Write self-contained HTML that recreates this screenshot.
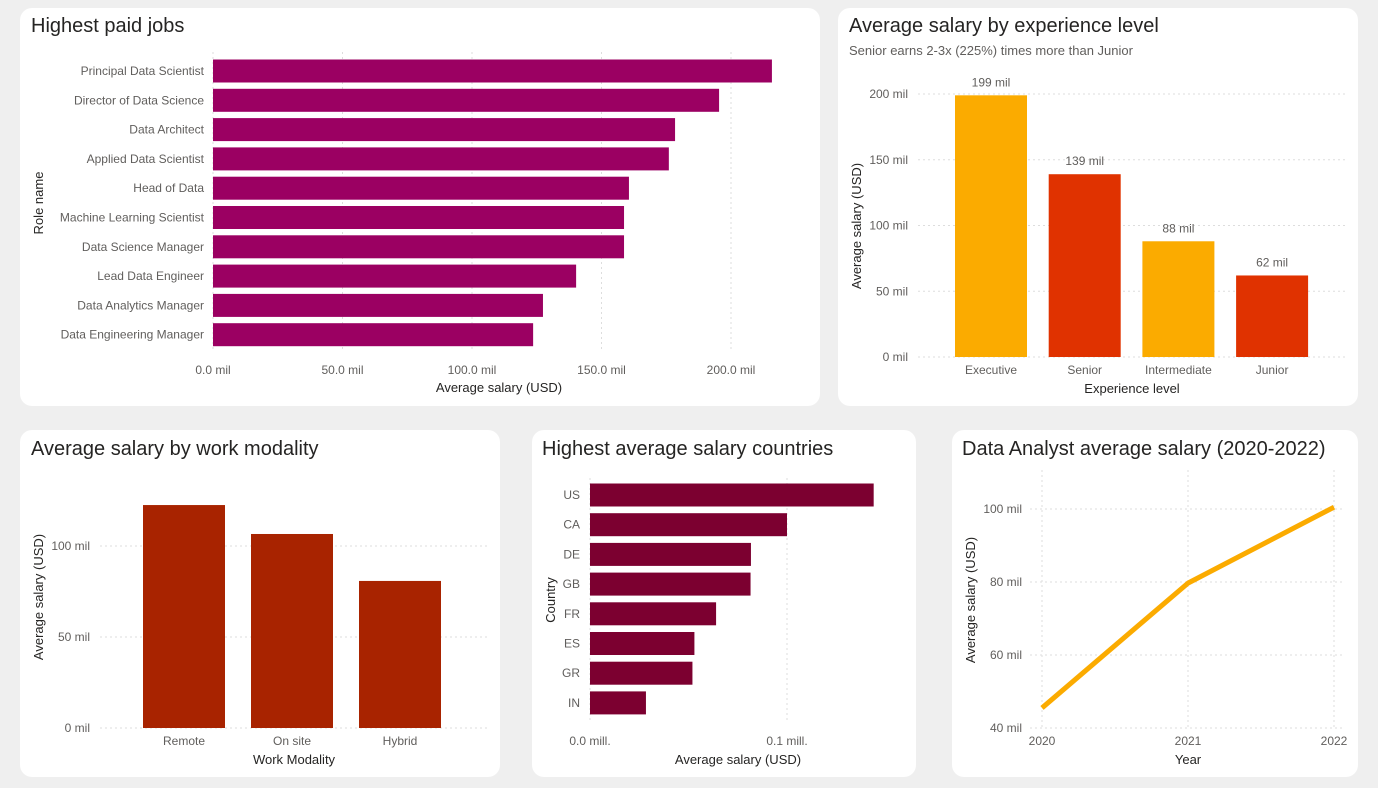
<!DOCTYPE html>
<html><head><meta charset="utf-8">
<style>
body{margin:0;width:1378px;height:788px;background:#efefef;font-family:"Liberation Sans",sans-serif;overflow:hidden;position:relative}
.card{position:absolute;background:#fff;border-radius:12px}
svg{position:absolute;left:0;top:0}
text{font-family:"Liberation Sans",sans-serif}
</style></head><body>
<div class="card" style="left:20px;top:8px;width:800px;height:398px"></div>
<div class="card" style="left:838px;top:8px;width:520px;height:398px"></div>
<div class="card" style="left:20px;top:430px;width:480px;height:347px"></div>
<div class="card" style="left:532px;top:430px;width:384px;height:347px"></div>
<div class="card" style="left:952px;top:430px;width:406px;height:347px"></div>
<svg id="s" width="1378" height="788"></svg>
<script>
const jobs=["Principal Data Scientist","Director of Data Science","Data Architect","Applied Data Scientist","Head of Data","Machine Learning Scientist","Data Science Manager","Lead Data Engineer","Data Analytics Manager","Data Engineering Manager"];
const jobVals=[215.8,195.4,178.4,176,160.6,158.7,158.7,140.2,127.4,123.6];
const jobTicks=[0,50,100,150,200];
const expCats=["Executive","Senior","Intermediate","Junior"];
const expVals=[199,139,88,62];
const expTicks=[0,50,100,150,200];
const modCats=["Remote","On site","Hybrid"];
const modVals=[122.5,106.6,80.8];
const modTicks=[0,50,100];
const countries=["US","CA","DE","GB","FR","ES","GR","IN"];
const countryVals=[0.144,0.100,0.0817,0.0815,0.064,0.053,0.052,0.0284];
const countryTicks=[0,0.1];
const years=[2020,2021,2022];
const daVals=[45.5,79.7,100.5];
const daTicks=[40,60,80,100];

const s=document.getElementById('s');const NS="http://www.w3.org/2000/svg";
function el(t,a,txt){const e=document.createElementNS(NS,t);for(const k in a)e.setAttribute(k,a[k]);if(txt!==undefined)e.textContent=txt;s.appendChild(e);return e;}
function tx(x,y,str,o){o=o||{};const e=el('text',{x:x,y:y,'font-size':o.fs||12,fill:o.fill||'#605e5c','text-anchor':o.a||'middle'},str);if(o.rot)e.setAttribute('transform',`rotate(-90 ${x} ${y})`);return e;}
function title(x,y,str,n){const e=tx(x,y,str,{fs:20,fill:'#252423',a:'start'});}
const grid={stroke:'#ddd','stroke-dasharray':'2,3'};

// Chart 1
title(31,32,"Highest paid jobs","title-highest-paid-jobs");
const x1=v=>213+v*2.59;
jobTicks.forEach(t=>{el('line',Object.assign({x1:x1(t),x2:x1(t),y1:52,y2:352},grid));const e=tx(x1(t),374,t.toFixed(1)+" mil");});
jobs.forEach((j,i)=>{const cy=71+i*29.3;const r=el('rect',{x:x1(0),y:cy-11.5,width:x1(jobVals[i])-x1(0),height:23,fill:'#9b0062'});


const l=tx(204,cy+4,j,{a:'end'});});
tx(499,392,"Average salary (USD)",{fs:13,fill:'#252423'});
tx(43,203,"Role name",{fs:13,fill:'#252423',rot:1});

// Chart 2
title(849,32,"Average salary by experience level","title-experience");
tx(849,55,"Senior earns 2-3x (225%) times more than Junior",{fs:13,a:'start'});
const y2=v=>357-v*1.315;
expTicks.forEach(t=>{el('line',Object.assign({x1:918,x2:1345,y1:y2(t),y2:y2(t)},grid));tx(908,y2(t)+4,t+" mil",{a:'end'});});
expCats.forEach((c,i)=>{const cx=991+i*93.7;const r=el('rect',{x:cx-36,y:y2(expVals[i]),width:72,height:y2(0)-y2(expVals[i]),fill:i%2?'#e03200':'#fbab00'});


tx(cx,374,c);tx(cx,y2(expVals[i])-9,expVals[i]+" mil");});
tx(1132,393,"Experience level",{fs:13,fill:'#252423'});
tx(861,226,"Average salary (USD)",{fs:13,fill:'#252423',rot:1});

// Chart 3
title(31,455,"Average salary by work modality","title-work-modality");
const y3=v=>728-v*1.82;
modTicks.forEach(t=>{el('line',Object.assign({x1:100,x2:487,y1:y3(t),y2:y3(t)},grid));tx(90,y3(t)+4,t+" mil",{a:'end'});});
modCats.forEach((c,i)=>{const cx=184+i*108;const r=el('rect',{x:cx-41,y:y3(modVals[i]),width:82,height:y3(0)-y3(modVals[i]),fill:'#a82300'});


tx(cx,745,c);});
tx(294,764,"Work Modality",{fs:13,fill:'#252423'});
tx(43,597,"Average salary (USD)",{fs:13,fill:'#252423',rot:1});

// Chart 4
title(542,455,"Highest average salary countries","title-countries");
const x4=v=>590+v*1970;
countryTicks.forEach(t=>{el('line',Object.assign({x1:x4(t),x2:x4(t),y1:478,y2:722},grid));tx(x4(t),745,t.toFixed(1)+" mill.");});
countries.forEach((c,i)=>{const cy=495+i*29.7;const r=el('rect',{x:x4(0),y:cy-11.5,width:x4(countryVals[i])-x4(0),height:23,fill:'#7c0030'});


tx(580,cy+4,c,{a:'end'});});
tx(738,764,"Average salary (USD)",{fs:13,fill:'#252423'});
tx(555,600,"Country",{fs:13,fill:'#252423',rot:1});

// Chart 5
title(962,455,"Data Analyst average salary (2020-2022)","title-data-analyst");
const y5=v=>728-(v-40)*3.65, x5=yr=>1042+(yr-2020)*146;
daTicks.forEach(t=>{el('line',Object.assign({x1:1030,x2:1345,y1:y5(t),y2:y5(t)},grid));tx(1022,y5(t)+4,t+" mil",{a:'end'});});
years.forEach(yr=>{el('line',Object.assign({x1:x5(yr),x2:x5(yr),y1:470,y2:728},grid));tx(x5(yr),745,yr);});
const ln=el('polyline',{points:years.map((yr,i)=>x5(yr)+","+y5(daVals[i])).join(" "),fill:'none',stroke:'#fbab00','stroke-width':5,'stroke-linejoin':'round'});


tx(1188,764,"Year",{fs:13,fill:'#252423'});
tx(975,600,"Average salary (USD)",{fs:13,fill:'#252423',rot:1});
</script>
</body></html>
